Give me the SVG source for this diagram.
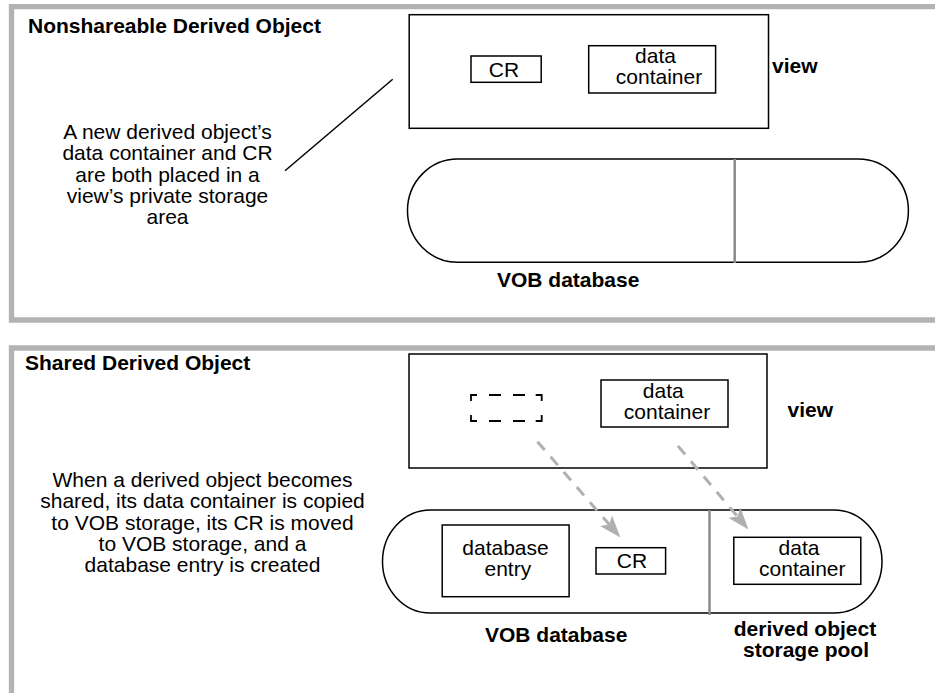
<svg xmlns="http://www.w3.org/2000/svg" width="935" height="693" viewBox="0 0 935 693">
<style>
  text { font-family: "Liberation Sans", Arial, sans-serif; font-size: 21px; fill: #000; }
  .b { font-weight: bold; }
  .c { text-anchor: middle; }
  .box { fill: #fff; stroke: #000; stroke-width: 1.5; }
  .cap { fill: #fff; stroke: #000; stroke-width: 1.5; }
  .frame { fill: none; stroke: #b3b3b3; stroke-width: 5.3; }
  .div { stroke: #8a8a8a; stroke-width: 2.5; }
  .arrow { fill: none; stroke: #b0b0b0; stroke-width: 3; stroke-dasharray: 11 9; }
  .line { stroke: #000; stroke-width: 1.5; fill: none; }
  .dash { stroke: #000; stroke-width: 1.8; fill: none; }
</style>
<defs>
  <marker id="ah" markerUnits="userSpaceOnUse" markerWidth="22" markerHeight="16" refX="5" refY="8" orient="auto" viewBox="0 0 22 16">
    <path d="M0,0 L22,8 L0,16 L5,8 z" fill="#b0b0b0"/>
  </marker>
</defs>
<rect x="0" y="0" width="935" height="693" fill="#fff"/>

<!-- Top panel -->
<g id="frame-top">
  <path class="frame" d="M940,6.7 H11.5 V320 H940"/>
  <text class="b" x="28" y="32.5">Nonshareable Derived Object</text>
</g>
<g id="desc-top">
  <text class="c" x="167.5" y="139">A new derived object’s</text>
  <text class="c" x="167.5" y="160.3">data container and CR</text>
  <text class="c" x="167.5" y="181.6">are both placed in a</text>
  <text class="c" x="167.5" y="202.9">view’s private storage</text>
  <text class="c" x="167.5" y="224.2">area</text>
</g>
<g id="view-top">
  <rect class="box" x="409.2" y="14.7" width="359.3" height="113.6"/>
  <text class="b" x="772" y="72.7">view</text>
</g>
<g id="cr-top">
  <rect class="box" x="471" y="56" width="70.2" height="26.3"/>
  <text class="c" x="504" y="76.7">CR</text>
</g>
<g id="dc-top">
  <rect class="box" x="588.7" y="45.7" width="126.9" height="47.3"/>
  <text class="c" x="655.5" y="63.3">data</text>
  <text class="c" x="659" y="84">container</text>
</g>
<g id="vob-top">
  <rect class="cap" x="407.5" y="159" width="500.9" height="103.3" rx="50" ry="51.6"/>
  <line class="div" x1="734.7" y1="159" x2="734.7" y2="263"/>
  <text class="b" x="497" y="287.3">VOB database</text>
</g>

<!-- Bottom panel -->
<g id="frame-bottom">
  <path class="frame" d="M940,348 H11.5 V700"/>
  <text class="b" x="25" y="370">Shared Derived Object</text>
</g>
<g id="desc-bottom">
  <text class="c" x="202.5" y="487">When a derived object becomes</text>
  <text class="c" x="202.5" y="508.3">shared, its data container is copied</text>
  <text class="c" x="202.5" y="529.6">to VOB storage, its CR is moved</text>
  <text class="c" x="202.5" y="550.9">to VOB storage, and a</text>
  <text class="c" x="202.5" y="572.2">database entry is created</text>
</g>
<g id="view-bottom">
  <rect class="box" x="409" y="354" width="358" height="114"/>
  <text class="b" x="787.5" y="416.7">view</text>
</g>
<g id="cr-placeholder">
  <path class="dash" d="M471,401 V395 H477 M489,395 H501 M513,395 H525 M535.7,395 H541.7 V401 M541.7,415 V421 H535.7 M525,421 H513 M501,421 H489 M477,421 H471 V415"/>
</g>
<g id="dc-view-bottom">
  <rect class="box" x="601" y="380" width="127" height="47"/>
  <text class="c" x="663.3" y="398.3">data</text>
  <text class="c" x="667" y="419.3">container</text>
</g>
<g id="vob-bottom">
  <rect class="cap" x="382.5" y="510" width="499.5" height="103" rx="48" ry="51.5"/>
  <line class="div" x1="709.5" y1="510" x2="709.5" y2="615"/>
  <text class="b" x="485" y="641.7">VOB database</text>
  <text class="b c" x="805" y="636">derived object</text>
  <text class="b c" x="806" y="656.7">storage pool</text>
</g>
<g id="db-entry">
  <rect class="box" x="442.2" y="525" width="126.9" height="71.7"/>
  <text class="c" x="505.5" y="555">database</text>
  <text class="c" x="507.8" y="576">entry</text>
</g>
<g id="cr-bottom">
  <rect class="box" x="596" y="547.7" width="69.6" height="26.3"/>
  <text class="c" x="632" y="567.7">CR</text>
</g>
<g id="dc-pool">
  <rect class="box" x="733.8" y="537.3" width="127" height="47"/>
  <text class="c" x="799" y="555">data</text>
  <text class="c" x="802.3" y="575.7">container</text>
</g>

<!-- Connectors -->
<g id="connectors">
  <line class="line" x1="392.7" y1="79.3" x2="285" y2="170.7"/>
  <line class="arrow" x1="537.5" y1="441.7" x2="609.3" y2="524.6" marker-end="url(#ah)"/>
  <line class="arrow" x1="678" y1="446" x2="737.5" y2="516.5" marker-end="url(#ah)"/>
</g>
</svg>
